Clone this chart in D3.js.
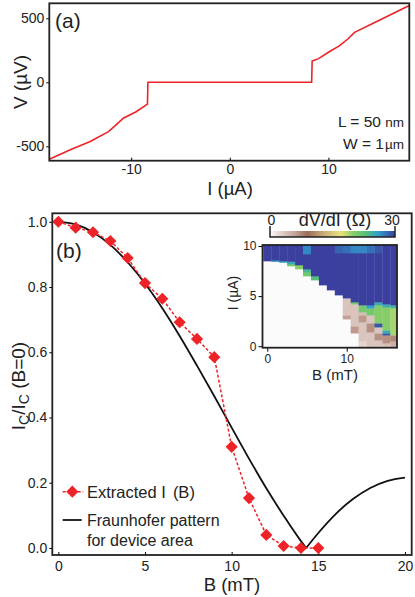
<!DOCTYPE html>
<html>
<head>
<meta charset="utf-8">
<script src="https://cdn.jsdelivr.net/npm/d3@7"></script>
<style>
body { margin: 0; background: #fff; }
text { font-family: "Liberation Sans", Arial, sans-serif; fill: #222; }
</style>
</head>
<body>
<div id="fig"></div>
<script>
// panel (a): V-I curve
var ivI = [-18.3, -16, -14.2, -12.3, -11.5, -10.8, -9.5, -8.35, -8.3, 8.3, 8.35, 9, 10, 11.1, 12, 12.65, 14.85, 18.2];
var ivV = [-600, -520, -464, -385, -330, -280, -230, -170, 0, 0, 166, 185, 235, 285, 340, 390, 473, 600];
var ivTicksX = [-10, 0, 10];
var ivTicksY = [-500, 0, 500];

// panel (b): normalised critical current
var bField = [0, 1, 2, 3, 4, 5, 6, 7, 8, 9, 10, 11, 12, 13, 14, 15];
var icRatio = [1.0, 0.982, 0.968, 0.941, 0.889, 0.812, 0.764, 0.692, 0.641, 0.585, 0.31, 0.153, 0.04, 0.006, 0, 0];
var fraunB = [0, 1, 2, 3, 4, 5, 6, 7, 8, 9, 10, 11, 12, 13, 14, 14.3, 15, 16, 17, 18, 19, 20];
var fraunR = [1.0, 0.992, 0.968, 0.929, 0.876, 0.811, 0.735, 0.65, 0.559, 0.465, 0.369, 0.274, 0.183, 0.099, 0.021, 0, 0.046, 0.104, 0.15, 0.184, 0.206, 0.216];
var bTicks = [0, 5, 10, 15, 20];
var rTicks = [0, 0.2, 0.4, 0.6, 0.8, 1.0];

// inset: dV/dI map, one column per field value, segments [top current, dV/dI] from bottom up
var insetB = [0, 1, 2, 3, 4, 5, 6, 7, 8, 9, 10, 11, 12, 13, 14, 15, 16];
var insetSegs = [
  [[8.5, 0], [10.1, 30]],
  [[8.45, 0], [8.6, 27], [10.1, 30]],
  [[8.35, 0], [8.5, 25], [10.1, 30]],
  [[8.0, 0], [8.2, 21], [8.45, 25], [10.1, 30]],
  [[7.7, 0], [8.1, 20], [10.1, 30]],
  [[7.0, 0], [7.4, 21], [7.7, 24], [9.2, 30], [10.1, 27]],
  [[6.6, 0], [7.0, 23], [10.1, 30]],
  [[6.1, 0], [10.1, 30]],
  [[5.6, 0], [10.1, 30]],
  [[5.1, 0], [9.3, 30], [10.1, 28.5]],
  [[2.7, 0], [3.1, 6], [4.8, 3.5], [9.3, 30], [10.1, 28]],
  [[1.3, 0], [2.0, 6.5], [4.2, 3.5], [4.4, 21], [9.3, 30], [10.1, 27]],
  [[0.5, 2.5], [2.4, 3.5], [3.1, 6.5], [3.4, 4], [4.1, 21], [9.3, 30], [10.1, 27]],
  [[1.4, 3.5], [2.3, 7], [3.1, 3.5], [3.8, 21], [4.1, 26], [9.3, 30], [10.1, 28]],
  [[0.6, 3.5], [1.3, 7], [1.9, 3.5], [2.3, 29], [4.1, 20], [4.4, 25], [9.3, 30], [10.1, 29]],
  [[0.3, 4], [1.1, 7], [1.3, 29], [1.6, 25], [3.9, 20], [4.2, 25], [10.1, 30]],
  [[0.5, 5], [1.1, 7.5], [3.8, 19], [4.1, 24], [10.1, 30]]
];
var insetTicksB = [0, 10];
var insetTicksI = [0, 5, 10];
var cbStops = [0, 3, 6, 9, 13, 17, 20, 23, 26, 30];
var cbColors = ["#fbfbfb", "#dfcbc6", "#c3a398", "#9c6c58", "#c9b07a", "#ebe27a", "#84cd68", "#55c07a", "#2f9fd0", "#3b3f9e"];

var red = "#ee2328";
var plain = d => String(d);

var svg = d3.select("#fig").append("svg").attr("width", 415).attr("height", 597);

// ---------- panel (a) ----------
var xA = d3.scaleLinear().domain([-18.3, 18.2]).range([49.3, 409.3]);
var yA = d3.scaleLinear().domain([-612, 617]).range([160.7, 3.3]);

svg.append("g").attr("transform", "translate(49.3,0)")
  .call(d3.axisLeft(yA).tickValues(ivTicksY).tickFormat(plain).tickSize(3).tickPadding(2))
  .call(g => g.select(".domain").remove())
  .call(g => g.selectAll("text").attr("font-size", 14).attr("font-family", null));
svg.append("g").attr("transform", "translate(0,160.7)")
  .call(d3.axisBottom(xA).tickValues(ivTicksX).tickFormat(plain).tickSize(-3).tickPadding(3))
  .call(g => g.select(".domain").remove())
  .call(g => g.selectAll("text").attr("font-size", 14).attr("font-family", null));

svg.append("clipPath").attr("id", "clipA").append("rect")
  .attr("x", 49.3).attr("y", 3.3).attr("width", 360).attr("height", 157.4);
svg.append("path").datum(d3.zip(ivI, ivV))
  .attr("clip-path", "url(#clipA)")
  .attr("fill", "none").attr("stroke", red).attr("stroke-width", 1.6)
  .attr("d", d3.line().x(d => xA(d[0])).y(d => yA(d[1])));
svg.append("rect").attr("x", 49.3).attr("y", 3.3).attr("width", 360).attr("height", 157.4)
  .attr("fill", "none").attr("stroke", "#222").attr("stroke-width", 1.8);

svg.append("text").attr("x", 55).attr("y", 28).attr("font-size", 21).text("(a)");
var lt = svg.append("text").attr("x", 404).attr("y", 127).attr("text-anchor", "end").attr("font-size", 15.5);
lt.append("tspan").text("L = 50 ");
lt.append("tspan").attr("font-size", 13.5).text("nm");
var wt = svg.append("text").attr("x", 404).attr("y", 149).attr("text-anchor", "end").attr("font-size", 15.5);
wt.append("tspan").text("W = 1");
wt.append("tspan").attr("font-size", 13.5).attr("dx", 1).text("µm");

svg.append("text").attr("transform", "translate(27,82) rotate(-90)")
  .attr("text-anchor", "middle").attr("font-size", 19).text("V (µV)");
svg.append("text").attr("x", 230).attr("y", 195)
  .attr("text-anchor", "middle").attr("font-size", 18.5).text("I (µA)");

// ---------- panel (b) ----------
var xB = d3.scaleLinear().domain([-0.35, 20.39]).range([52.3, 411.7]);
var yB = d3.scaleLinear().domain([-0.0215, 1.026]).range([555, 213.3]);

svg.append("g").attr("transform", "translate(52.3,0)")
  .call(d3.axisLeft(yB).tickValues(rTicks).tickFormat(d3.format(".1f")).tickSize(3).tickPadding(2))
  .call(g => g.select(".domain").remove())
  .call(g => g.selectAll("text").attr("font-size", 14).attr("font-family", null));
svg.append("g").attr("transform", "translate(0,555)")
  .call(d3.axisBottom(xB).tickValues(bTicks).tickSize(-3).tickPadding(6))
  .call(g => g.select(".domain").remove())
  .call(g => g.selectAll("text").attr("font-size", 14).attr("font-family", null));

var fraun = d3.zip(fraunB, fraunR);
var lineB = d3.line().x(d => xB(d[0])).y(d => yB(d[1])).curve(d3.curveMonotoneX);
svg.append("path").datum(fraun.filter(d => d[0] <= 14.3))
  .attr("fill", "none").attr("stroke", "#111").attr("stroke-width", 1.8).attr("d", lineB);
svg.append("path").datum(fraun.filter(d => d[0] >= 14.3))
  .attr("fill", "none").attr("stroke", "#111").attr("stroke-width", 1.8).attr("d", lineB);

var pts = d3.zip(bField, icRatio);
svg.append("path").datum(pts)
  .attr("fill", "none").attr("stroke", red).attr("stroke-width", 1.5).attr("stroke-dasharray", "3,2")
  .attr("d", d3.line().x(d => xB(d[0])).y(d => yB(d[1])));
var diamond = d3.symbol().type(d3.symbolSquare).size(74);
svg.selectAll(".pt").data(pts).enter().append("path").attr("class", "pt")
  .attr("d", diamond).attr("fill", red)
  .attr("transform", d => "translate(" + xB(d[0]) + "," + yB(d[1]) + ") rotate(45)");

svg.append("rect").attr("x", 52.3).attr("y", 213.3).attr("width", 359.4).attr("height", 341.7)
  .attr("fill", "none").attr("stroke", "#222").attr("stroke-width", 1.8);

svg.append("text").attr("x", 56).attr("y", 258).attr("font-size", 21).text("(b)");

// legend
svg.append("line").attr("x1", 62.7).attr("x2", 83.3).attr("y1", 491.7).attr("y2", 491.7)
  .attr("stroke", red).attr("stroke-width", 1.5).attr("stroke-dasharray", "3,2");
svg.append("path").attr("d", diamond).attr("fill", red).attr("transform", "translate(72.3,491.7) rotate(45)");
var l1 = svg.append("text").attr("x", 87).attr("y", 497.5).attr("font-size", 16.5);
l1.append("tspan").text("Extracted I");
l1.append("tspan").attr("dx", 7).text("(B)");
svg.append("line").attr("x1", 62.7).attr("x2", 81.7).attr("y1", 520).attr("y2", 520)
  .attr("stroke", "#111").attr("stroke-width", 1.8);
svg.append("text").attr("x", 87).attr("y", 525.5).attr("font-size", 16).text("Fraunhofer pattern");
svg.append("text").attr("x", 87).attr("y", 546).attr("font-size", 16).text("for device area");

var yt = svg.append("text").attr("transform", "translate(25,386) rotate(-90)")
  .attr("text-anchor", "middle").attr("font-size", 19);
yt.append("tspan").text("I");
yt.append("tspan").attr("font-size", 14).attr("dy", 4).text("C");
yt.append("tspan").attr("dy", -4).text("/I");
yt.append("tspan").attr("font-size", 14).attr("dy", 4).text("C");
yt.append("tspan").attr("dy", -4).text(" (B=0)");
svg.append("text").attr("x", 232).attr("y", 591)
  .attr("text-anchor", "middle").attr("font-size", 18.5).text("B (mT)");

// ---------- inset ----------
var color = d3.scaleLinear().domain(cbStops).range(cbColors);
var xH = d3.scaleLinear().domain([-0.6, 16.33]).range([262.5, 397]);
var yH = d3.scaleLinear().domain([-0.15, 10.1]).range([347.7, 245]);

svg.append("clipPath").attr("id", "clipH").append("rect")
  .attr("x", 262.5).attr("y", 245).attr("width", 134.5).attr("height", 102.7);
var cells = [];
insetSegs.forEach(function (segs, k) {
  var lo = -0.15;
  segs.forEach(function (s) {
    cells.push({ b: insetB[k], lo: lo, hi: s[0], r: s[1] });
    lo = s[0];
  });
});
svg.append("g").attr("clip-path", "url(#clipH)")
  .selectAll("rect").data(cells).enter().append("rect")
  .attr("x", d => xH(d.b - 0.5)).attr("width", d => xH(d.b + 0.5) - xH(d.b - 0.5) + 0.3)
  .attr("y", d => yH(d.hi)).attr("height", d => yH(d.lo) - yH(d.hi) + 0.3)
  .attr("fill", d => color(d.r));

svg.append("g").attr("transform", "translate(262.5,0)")
  .call(d3.axisLeft(yH).tickValues(insetTicksI).tickSize(4).tickPadding(2))
  .call(g => g.select(".domain").remove())
  .call(g => g.selectAll("text").attr("font-size", 12).attr("font-family", null));
svg.append("g").attr("transform", "translate(0,347.7)")
  .call(d3.axisBottom(xH).tickValues(insetTicksB).tickSize(4).tickPadding(3))
  .call(g => g.select(".domain").remove())
  .call(g => g.selectAll("text").attr("font-size", 12).attr("font-family", null));
svg.append("rect").attr("x", 262.5).attr("y", 245).attr("width", 134.5).attr("height", 102.7)
  .attr("fill", "none").attr("stroke", "#222").attr("stroke-width", 1.8);

svg.append("text").attr("transform", "translate(238,293) rotate(-90)")
  .attr("text-anchor", "middle").attr("font-size", 14).text("I (µA)");
svg.append("text").attr("x", 335).attr("y", 380)
  .attr("text-anchor", "middle").attr("font-size", 15).text("B (mT)");

// colour bar
var grad = svg.append("defs").append("linearGradient").attr("id", "cb");
cbStops.forEach(function (v, i) {
  grad.append("stop").attr("offset", (v / 30 * 100) + "%").attr("stop-color", cbColors[i]);
});
svg.append("rect").attr("x", 270).attr("y", 231).attr("width", 125).attr("height", 6).attr("fill", "url(#cb)");
svg.append("path").attr("d", "M270,226V237H395V226").attr("fill", "none").attr("stroke", "#222").attr("stroke-width", 1.5);
svg.append("text").attr("x", 271.5).attr("y", 225).attr("text-anchor", "middle").attr("font-size", 14).text("0");
svg.append("text").attr("x", 392).attr("y", 225).attr("text-anchor", "middle").attr("font-size", 14).text("30");
svg.append("text").attr("x", 335).attr("y", 226).attr("text-anchor", "middle").attr("font-size", 18).text("dV/dI (Ω)");
</script>
</body>
</html>
